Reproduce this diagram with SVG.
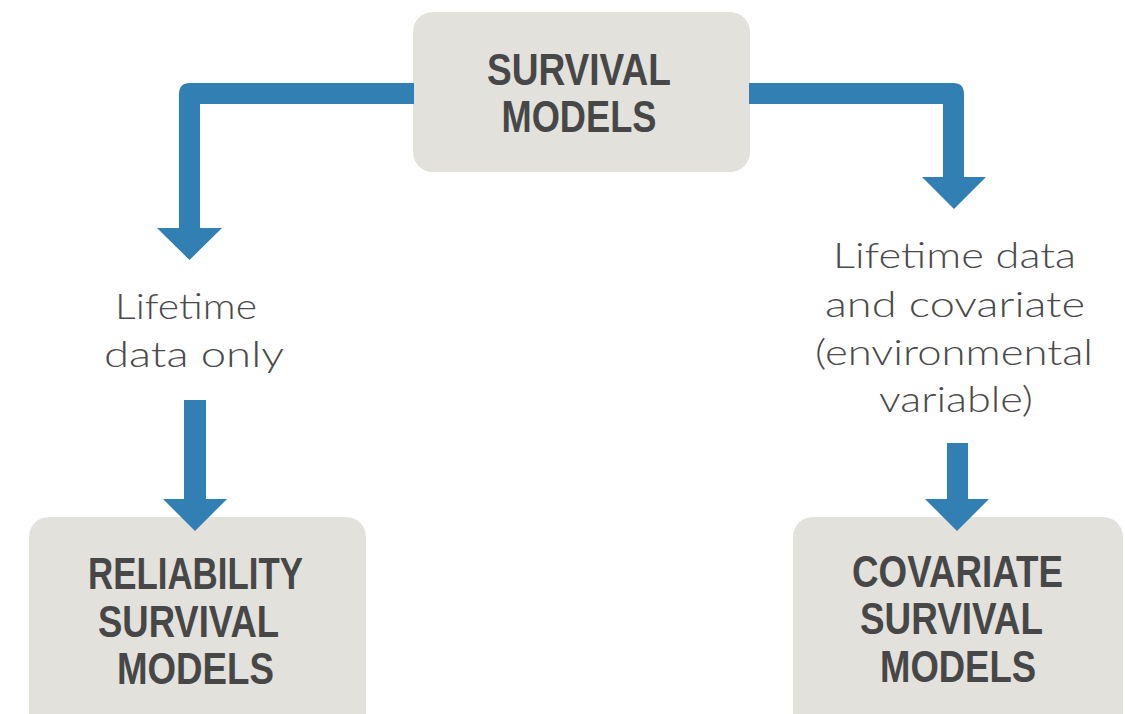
<svg xmlns="http://www.w3.org/2000/svg" width="1125" height="714" viewBox="0 0 1125 714">
<style>
.box{fill:#e2e1dc}
.title{font-family:"Liberation Sans",Arial,sans-serif;font-weight:bold;font-size:44px;fill:#474747;text-anchor:middle}
.lbl{font-family:Lato,"Open Sans","Liberation Sans",sans-serif;font-weight:300;font-size:36px;fill:#4a4a4a;text-anchor:middle}
.arr{fill:#317fb3}
</style>
<rect width="1125" height="714" fill="#ffffff"/>
<g id="survival-models">
<rect class="box" x="413" y="12" width="337" height="160" rx="20"/>
<text class="title" x="579" y="85" textLength="184" lengthAdjust="spacingAndGlyphs">SURVIVAL</text>
<text class="title" x="579" y="132" textLength="155" lengthAdjust="spacingAndGlyphs">MODELS</text>
</g>
<g id="label-left">
<text class="lbl" x="186" y="319" textLength="142" lengthAdjust="spacingAndGlyphs">Lifetime</text>
<text class="lbl" x="194" y="367" textLength="180" lengthAdjust="spacingAndGlyphs">data only</text>
</g>
<g id="label-right">
<text class="lbl" x="954.5" y="268" textLength="243" lengthAdjust="spacingAndGlyphs">Lifetime data</text>
<text class="lbl" x="955" y="317" textLength="260" lengthAdjust="spacingAndGlyphs">and covariate</text>
<text class="lbl" x="954" y="365" textLength="278" lengthAdjust="spacingAndGlyphs">(environmental</text>
<text class="lbl" x="956" y="412" textLength="154" lengthAdjust="spacingAndGlyphs">variable)</text>
</g>
<g id="reliability-survival-models">
<rect class="box" x="29" y="517" width="337" height="230" rx="20"/>
<text class="title" x="195.5" y="589" textLength="215" lengthAdjust="spacingAndGlyphs">RELIABILITY</text>
<text class="title" x="188.5" y="637" textLength="181" lengthAdjust="spacingAndGlyphs">SURVIVAL</text>
<text class="title" x="195.5" y="684" textLength="157" lengthAdjust="spacingAndGlyphs">MODELS</text>
</g>
<g id="covariate-survival-models">
<rect class="box" x="793" y="517" width="330" height="230" rx="20"/>
<text class="title" x="957.5" y="587" textLength="211" lengthAdjust="spacingAndGlyphs">COVARIATE</text>
<text class="title" x="951.5" y="634" textLength="183" lengthAdjust="spacingAndGlyphs">SURVIVAL</text>
<text class="title" x="958" y="682" textLength="156" lengthAdjust="spacingAndGlyphs">MODELS</text>
</g>
<g id="connectors">
<path class="arr" d="M414,83 H190 Q179,83 179,94 V228 H157 L189.5,260 L222,228 H200 V104 H414 Z"/>
<path class="arr" d="M749,83 H953 Q964,83 964,94 V177 H986 L954,209 L922,177 H943 V104 H749 Z"/>
<path class="arr" d="M184,400 H206 V499 H227 L195,531 L163,499 H184 Z"/>
<path class="arr" d="M947,443 H968 V499 H989 L957,531 L925,499 H947 Z"/>
</g>
</svg>
